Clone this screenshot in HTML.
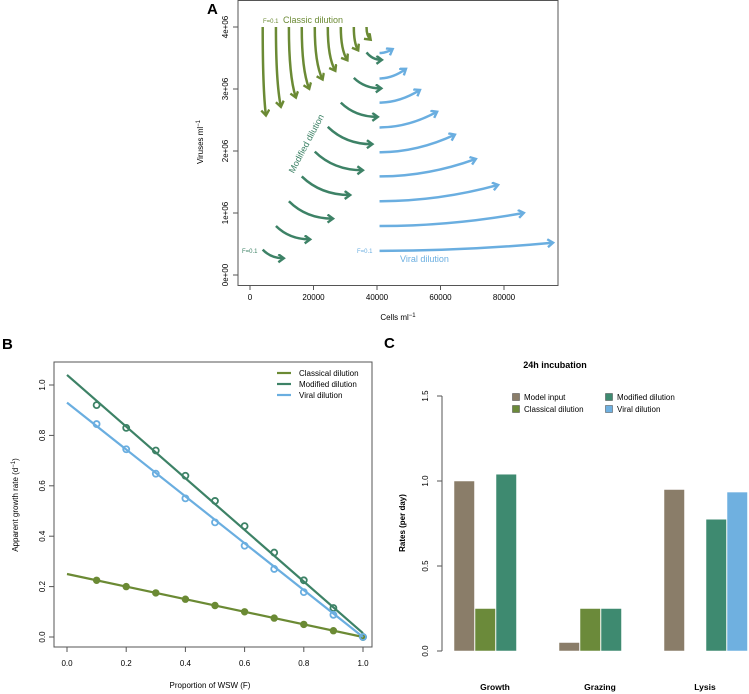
<!DOCTYPE html>
<html><head><meta charset="utf-8"><style>
body{margin:0;background:#fff;}
svg{display:block;font-family:"Liberation Sans",sans-serif;}
</style></head><body>
<svg id="s" width="749" height="694" viewBox="0 0 749 694" xmlns="http://www.w3.org/2000/svg">
<defs>
<marker id="mo" markerWidth="12" markerHeight="12" refX="6" refY="4.5" orient="auto" markerUnits="userSpaceOnUse"><path d="M1,0.5 L6.5,4.5 L1,8.5" fill="none" stroke="#6b8a34" stroke-width="2.4"/></marker>
<marker id="mg" markerWidth="12" markerHeight="12" refX="6" refY="4.5" orient="auto" markerUnits="userSpaceOnUse"><path d="M1,0.5 L6.5,4.5 L1,8.5" fill="none" stroke="#3d8266" stroke-width="2.4"/></marker>
<marker id="mb" markerWidth="12" markerHeight="12" refX="6" refY="4.5" orient="auto" markerUnits="userSpaceOnUse"><path d="M1,0.5 L6.5,4.5 L1,8.5" fill="none" stroke="#6aaee0" stroke-width="2.4"/></marker>
</defs>
<!-- Panel A -->
<g id="pa">
<text x="207" y="14" font-size="15" font-weight="bold">A</text>
<rect x="238" y="0.5" width="320" height="285" fill="none" stroke="#555"/>
<text x="263" y="23" font-size="6" fill="#6b8a34">F=0.1</text>
<text x="283" y="23" font-size="9" fill="#6b8a34">Classic dilution</text>
<text transform="translate(309,145) rotate(-62)" font-size="9" fill="#3d8266" text-anchor="middle">Modified dilution</text>
<text x="242" y="253" font-size="6" fill="#3d8266">F=0.1</text>
<text x="357" y="253" font-size="6" fill="#6aaee0">F=0.1</text>
<text x="400" y="262" font-size="9" fill="#6aaee0">Viral dilution</text>
<text x="398" y="320" font-size="8" text-anchor="middle">Cells ml<tspan baseline-shift="super" font-size="6">−1</tspan></text>
<text transform="translate(203,142) rotate(-90)" font-size="8" text-anchor="middle">Viruses ml<tspan baseline-shift="super" font-size="6">−1</tspan></text>
</g>
<!-- Panel B -->
<g id="pb">
<text x="2" y="349" font-size="15" font-weight="bold">B</text>
<rect x="54" y="362" width="318" height="285" fill="none" stroke="#555"/>
<text x="210" y="688" font-size="8" text-anchor="middle">Proportion of WSW (F)</text>
<text transform="translate(18,505) rotate(-90)" font-size="8" text-anchor="middle">Apparent growth rate (d<tspan baseline-shift="super" font-size="6">−1</tspan>)</text>
</g>
<!-- Panel C -->
<g id="pc">
<text x="384" y="348" font-size="15" font-weight="bold">C</text>
<text x="555" y="368" font-size="9" font-weight="bold" text-anchor="middle">24h incubation</text>
<text transform="translate(405,523) rotate(-90)" font-size="8" font-weight="bold" text-anchor="middle">Rates (per day)</text>
</g>
</svg>
<script>
const NS="http://www.w3.org/2000/svg";
const svg=document.getElementById('s');
function mk(tag,at,parent){const e=document.createElementNS(NS,tag);for(const k in at)e.setAttribute(k,at[k]);(parent||svg).appendChild(e);return e;}

// ---------- Panel A data ----------
const fLevels=[0.1,0.2,0.3,0.4,0.5,0.6,0.7,0.8,0.9];
const classicStartX=[4000,8170,12250,16300,20400,24500,28600,32700,36700];
const classicStartY=[4e6,4e6,4e6,4e6,4e6,4e6,4e6,4e6,4e6];
const classicEndX=[5000,9700,14400,18600,22800,26800,30600,34000,37900];
const classicEndY=[2.58e6,2.72e6,2.87e6,3.01e6,3.16e6,3.30e6,3.47e6,3.63e6,3.80e6];
const modStartX=[4000,8170,12250,16300,20400,24500,28600,32700,36700];
const modStartY=[0.41e6,0.79e6,1.19e6,1.59e6,1.99e6,2.39e6,2.78e6,3.18e6,3.59e6];
const modEndX=[10500,18800,26000,31400,35400,38400,40100,41200,41400];
const modEndY=[0.27e6,0.575e6,0.91e6,1.29e6,1.69e6,2.11e6,2.55e6,3.01e6,3.47e6];
const viralStartX=[40800,40800,40800,40800,40800,40800,40800,40800,40800];
const viralStartY=[0.39e6,0.79e6,1.19e6,1.59e6,1.98e6,2.38e6,2.78e6,3.17e6,3.58e6];
const viralEndX=[95300,86100,78000,71000,64400,58800,53400,49000,44800];
const viralEndY=[0.52e6,1.0e6,1.45e6,1.87e6,2.26e6,2.63e6,2.98e6,3.32e6,3.64e6];
const aXTicks=[0,20000,40000,60000,80000];
const aYTicks=[0,1e6,2e6,3e6,4e6];
const aYTickLabels=["0e+00","1e+06","2e+06","3e+06","4e+06"];

// ---------- Panel B data ----------
const bF=[0.1,0.2,0.3,0.4,0.5,0.6,0.7,0.8,0.9,1.0];
const bClassical=[0.225,0.2,0.175,0.15,0.125,0.1,0.075,0.05,0.025,0];
const bModified=[0.92,0.83,0.74,0.64,0.54,0.44,0.335,0.225,0.115,0];
const bViral=[0.845,0.745,0.648,0.55,0.455,0.362,0.27,0.178,0.088,0];
const bFitClassical=[0.25,0];
const bFitModified=[1.04,0.015];
const bFitViral=[0.93,0];
const bXTicks=[0,0.2,0.4,0.6,0.8,1.0];
const bYTicks=[0,0.2,0.4,0.6,0.8,1.0];

// ---------- Panel C data ----------
const cCategories=["Growth","Grazing","Lysis"];
const cModelInput=[1.0,0.05,0.95];
const cClassical=[0.25,0.25,null];
const cModified=[1.04,0.25,0.775];
const cViral=[null,null,0.935];
const cYTicks=[0,0.5,1.0,1.5];

const OL="#6b8a34",GR="#3d8266",BL="#6aaee0";

// ---- Panel A ----
const pa=document.getElementById('pa');
const ax=v=>250+v*254/80000, ay=v=>275-v*62/1e6;
aXTicks.forEach(t=>{
  const l=mk('line',{x1:ax(t),x2:ax(t),y1:285,y2:290,stroke:'#555'},pa);
  
  
  const tx=mk('text',{x:ax(t),y:300,'font-size':8,'text-anchor':'middle'},pa);tx.textContent=t;
  
  
});
aYTicks.forEach((t,i)=>{
  const l=mk('line',{x1:233,x2:238,y1:ay(t),y2:ay(t),stroke:'#555'},pa);
  
  
  const tx=mk('text',{transform:`translate(228,${ay(t)}) rotate(-90)`,'font-size':8,'text-anchor':'middle'},pa);tx.textContent=aYTickLabels[i];
  
  
});
function arrows(sx,sy,ex,ey,col,mid,kind,name){
  fLevels.forEach((f,i)=>{
    const x0=ax(sx[i]),y0=ay(sy[i]),x1=ax(ex[i]),y1=ay(ey[i]);
    let cx,cy;
    if(kind==='c'){cx=x0;cy=y0+(y1-y0)*0.7;}
    else if(kind==='m'){cx=x0+(x1-x0)*0.4;cy=y1;}
    else {cx=x0+(x1-x0)*0.5;cy=y0;}
    const p=mk('path',{d:`M${x0},${y0} Q${cx},${cy} ${x1},${y1}`,fill:'none',stroke:col,'stroke-width':2.5,'marker-end':`url(#${mid})`},pa);
    
    
  });
}
arrows(classicStartX,classicStartY,classicEndX,classicEndY,OL,'mo','c','classic-arrow');
arrows(modStartX,modStartY,modEndX,modEndY,GR,'mg','m','modified-arrow');
arrows(viralStartX,viralStartY,viralEndX,viralEndY,BL,'mb','v','viral-arrow');

// ---- Panel B ----
const pb=document.getElementById('pb');
const bx=v=>67+v*296, by=v=>637-v*252;
bXTicks.forEach(t=>{
  mk('line',{x1:bx(t),x2:bx(t),y1:647,y2:652,stroke:'#555'},pb);
  const tx=mk('text',{x:bx(t),y:666,'font-size':8,'text-anchor':'middle'},pb);tx.textContent=t.toFixed(1);
  
  
});
bYTicks.forEach(t=>{
  mk('line',{x1:49,x2:54,y1:by(t),y2:by(t),stroke:'#555'},pb);
  const tx=mk('text',{transform:`translate(45,${by(t)}) rotate(-90)`,'font-size':8,'text-anchor':'middle'},pb);tx.textContent=t.toFixed(1);
  
  
});
function series(vals,fit,col,filled,name){
  const l=mk('line',{x1:bx(0),y1:by(fit[0]),x2:bx(1),y2:by(fit[1]),stroke:col,'stroke-width':2.2},pb);
  
  
  vals.forEach((v,i)=>{
    const c=mk('circle',{cx:bx(bF[i]),cy:by(v),r:filled?3.2:3,fill:filled?col:'none',stroke:col,'stroke-width':filled?1:1.8},pb);
    
    
  });
}
series(bClassical,bFitClassical,OL,true,'classical');
series(bModified,bFitModified,GR,false,'modified');
series(bViral,bFitViral,BL,false,'viral');
[["Classical dilution",OL],["Modified dilution",GR],["Viral dilution",BL]].forEach((e,i)=>{
  const y=373+i*11;
  const l=mk('line',{x1:277,x2:291,y1:y,y2:y,stroke:e[1],'stroke-width':2.2},pb);
  
  
  const t=mk('text',{x:299,y:y+3,'font-size':8},pb);t.textContent=e[0];
  
  
});

// ---- Panel C ----
const pc=document.getElementById('pc');
const cy=v=>651-v*170;
mk('line',{x1:442,x2:442,y1:cy(0),y2:cy(1.5),stroke:'#555'},pc);
cYTicks.forEach(t=>{
  mk('line',{x1:437,x2:442,y1:cy(t),y2:cy(t),stroke:'#555'},pc);
  const tx=mk('text',{transform:`translate(428,${cy(t)}) rotate(-90)`,'font-size':8,'text-anchor':'middle'},pc);tx.textContent=t.toFixed(1);
  
  
});
const cSeries=[[cModelInput,"#8a7d69","model-input"],[cClassical,"#6b8a3a","classical"],[cModified,"#3e8a70","modified"],[cViral,"#6fb0e0","viral"]];
cCategories.forEach((c,g)=>{
  const gx=454+g*105;
  cSeries.forEach((s,k)=>{
    const v=s[0][g]; if(v===null) return;
    const r=mk('rect',{x:gx+k*21,y:cy(v),width:20.5,height:cy(0)-cy(v),fill:s[1],stroke:'#fff','stroke-width':0.5},pc);
    
    
  });
  const t=mk('text',{x:gx+41,y:690,'font-size':8.5,'font-weight':'bold','text-anchor':'middle'},pc);t.textContent=c;
  
  
});
[["Model input","#8a7d69",516,397],["Classical dilution","#6b8a3a",516,409],["Modified dilution","#3e8a70",609,397],["Viral dilution","#6fb0e0",609,409]].forEach(e=>{
  const r=mk('rect',{x:e[2]-3.5,y:e[3]-3.5,width:7,height:7,fill:e[1],stroke:'#444','stroke-width':0.5},pc);
  
  
  const t=mk('text',{x:e[2]+8,y:e[3]+3,'font-size':8},pc);t.textContent=e[0];
  
  
});
</script>
</body></html>
